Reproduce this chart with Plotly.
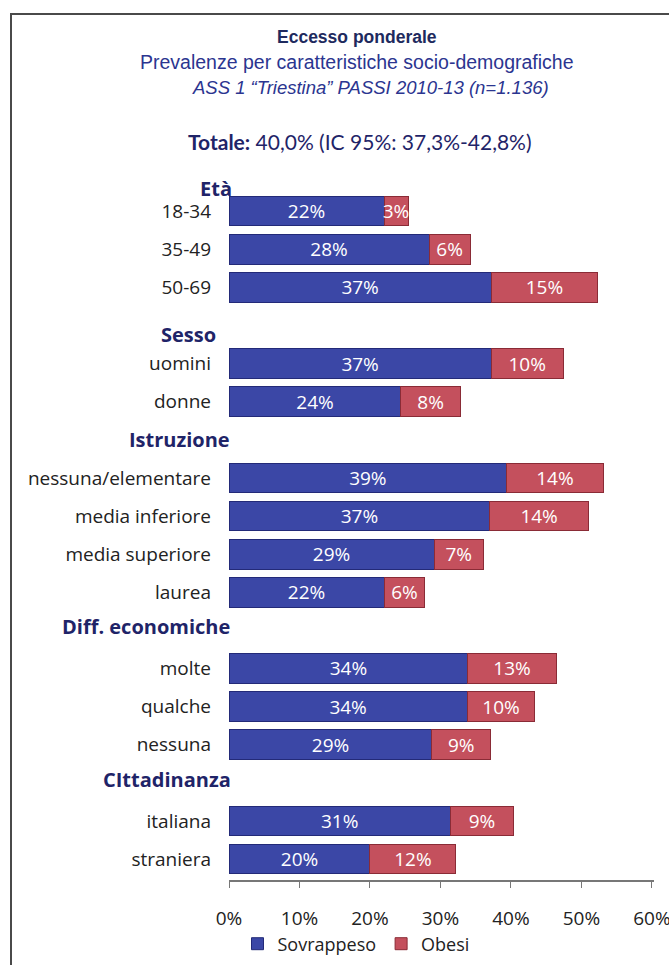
import plotly.graph_objects as go

categories = ["18-34", "35-49", "50-69", "Sesso", "uomini", "donne", "Istruzione",
              "nessuna/elementare", "media inferiore", "media superiore", "laurea",
              "Diff. economiche", "molte", "qualche", "nessuna", "CIttadinanza",
              "italiana", "straniera"]
rows = ["18-34", "35-49", "50-69", "uomini", "donne", "nessuna/elementare",
        "media inferiore", "media superiore", "laurea", "molte", "qualche",
        "nessuna", "italiana", "straniera"]
sovrappeso = [22.0, 28.4, 37.2, 37.2, 24.4, 39.4, 37.0, 29.1, 22.0, 33.9, 33.8, 28.8, 31.4, 20.0]
obesi = [3.4, 5.8, 15.1, 10.2, 8.4, 13.7, 14.0, 7.0, 5.8, 12.5, 9.6, 8.3, 9.0, 12.2]
sovr_labels = ["22%", "28%", "37%", "37%", "24%", "39%", "37%", "29%", "22%", "34%", "34%", "29%", "31%", "20%"]
obesi_labels = ["3%", "6%", "15%", "10%", "8%", "14%", "14%", "7%", "6%", "13%", "10%", "9%", "9%", "12%"]
headers = ["Età", "Sesso", "Istruzione", "Diff. economiche", "CIttadinanza"]
header_anchor = ["18-34", "Sesso", "Istruzione", "Diff. economiche", "CIttadinanza"]
header_shift = [23, -9, 0, 4, 3]
header_xshift = [2, -14, 0, 0, 1]
x_ticks = [0, 10, 20, 30, 40, 50, 60]

NAVY = "#1f2468"
LABEL_FONT = "'Open Sans', Lato, sans-serif"

fig = go.Figure()
fig.add_trace(go.Bar(
    y=rows, x=sovrappeso, orientation="h", name="Sovrappeso",
    marker=dict(color="#3b47a6", line=dict(color="#232a78", width=1)),
    text=sovr_labels, textposition="inside", insidetextanchor="middle", textangle=0,
    textfont=dict(color="white", size=19, family=LABEL_FONT), width=0.78,
    cliponaxis=False,
))
fig.add_trace(go.Bar(
    y=rows, x=obesi, orientation="h", name="Obesi",
    marker=dict(color="#c4505d", line=dict(color="#8a2b36", width=1)),
    text=obesi_labels, textposition="inside", insidetextanchor="middle", textangle=0,
    textfont=dict(color="white", size=19, family=LABEL_FONT), width=0.78,
    cliponaxis=False,
))

# plot area geometry (pixels)
L, R, T, B = 229, 654, 173, 880
H = B - T
W = R - L

def py(ypx):
    return (B - ypx) / H

def px(xpx):
    return (xpx - L) / W

annotations = []
for h, a, s, xs in zip(headers, header_anchor, header_shift, header_xshift):
    annotations.append(dict(
        text="<b>%s</b>" % h, xref="paper", yref="y", x=px(232), y=a,
        xanchor="right", yanchor="middle", yshift=s, xshift=xs, showarrow=False,
        font=dict(size=20, color=NAVY, family=LABEL_FONT),
    ))

annotations += [
    dict(text="<b>Eccesso ponderale</b>", xref="paper", yref="paper", x=px(357), y=py(37),
         showarrow=False, xanchor="center", yanchor="middle",
         font=dict(size=17.5, color="#1e2a5e", family="Liberation Sans, Arial, sans-serif")),
    dict(text="Prevalenze per caratteristiche socio-demografiche", xref="paper", yref="paper",
         x=px(357), y=py(62), showarrow=False, xanchor="center", yanchor="middle",
         font=dict(size=19.5, color="#2b3590", family="Liberation Sans, Arial, sans-serif")),
    dict(text="<i>ASS 1 \u201cTriestina\u201d PASSI 2010-13 (n=1.136)</i>", xref="paper", yref="paper",
         x=px(370), y=py(88), showarrow=False, xanchor="center", yanchor="middle",
         font=dict(size=18.5, color="#2b3590", family="Liberation Sans, Arial, sans-serif")),
    dict(text="<b>Totale:</b> 40,0% (IC 95%: 37,3%-42,8%)", xref="paper", yref="paper",
         x=px(360), y=py(142), showarrow=False, xanchor="center", yanchor="middle",
         font=dict(size=21, color=NAVY, family="Lato, sans-serif")),
]

shapes = [dict(type="rect", xref="paper", yref="paper",
               x0=px(11), x1=px(690), y0=py(990), y1=py(14),
               line=dict(color="#4a4a4a", width=2), fillcolor="rgba(0,0,0,0)", layer="below")]

fig.update_layout(
    width=669, height=965,
    margin=dict(l=L, r=669 - R, t=T, b=965 - B, pad=0, autoexpand=False),
    paper_bgcolor="white", plot_bgcolor="white",
    barmode="stack", bargap=0.22,
    showlegend=True,
    legend=dict(orientation="h", x=px(356), y=py(944), xanchor="center", yanchor="middle",
                font=dict(size=18, color="#222", family=LABEL_FONT), itemwidth=30,
                traceorder="normal", bgcolor="rgba(0,0,0,0)"),
    uniformtext=dict(minsize=19, mode="show"),
    annotations=annotations,
    shapes=shapes,
    xaxis=dict(range=[0, 60.3], tickvals=x_ticks, ticktext=["%d%%" % v for v in x_ticks],
               showgrid=False, zeroline=False, showline=True, linecolor="#777", linewidth=1.5,
               ticks="outside", ticklen=6, tickcolor="#777", ticklabelstandoff=14,
               ticklabeloverflow="allow",
               tickfont=dict(size=19, color="#222", family=LABEL_FONT), fixedrange=True),
    yaxis=dict(type="category", categoryorder="array", categoryarray=categories,
               range=[17.55, -1], tickvals=rows, ticktext=rows,
               showgrid=False, zeroline=False, showline=False, ticks="",
               ticklabelstandoff=17,
               tickfont=dict(size=19, color="#222", family=LABEL_FONT), fixedrange=True),
)

fig.write_html("out.html")
